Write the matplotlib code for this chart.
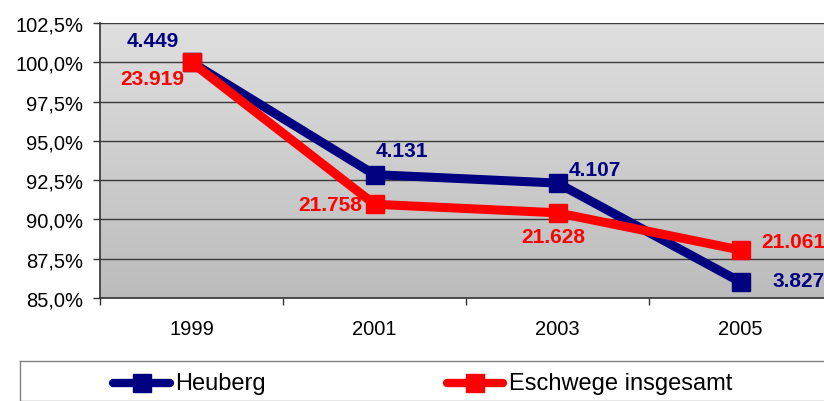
import numpy as np
import matplotlib
matplotlib.use("Agg")
import matplotlib.pyplot as plt
from matplotlib.ticker import FixedLocator, FuncFormatter

plt.rcParams['font.family'] = ['Liberation Sans', 'DejaVu Sans']

years = ["1999", "2001", "2003", "2005"]
heuberg = [4449, 4131, 4107, 3827]
eschwege = [23919, 21758, 21628, 21061]
series_names = ["Heuberg", "Eschwege insgesamt"]

navy = "#000080"
red = "#ff0000"

def pct(vals):
    v = np.asarray(vals, dtype=float)
    return v / v[0] * 100.0

def fmt_de(n):
    return f"{n:,}".replace(",", ".")

fig = plt.figure(figsize=(8.24, 4.02), dpi=100)
ax = fig.add_axes([100 / 824, 1 - 299 / 402, 732 / 824, 275 / 402])

x = np.arange(len(years))
ax.set_xlim(-0.5, len(years) - 0.5)
ax.set_ylim(85, 102.5)

# vertical gradient background
grad = np.linspace(0, 1, 256).reshape(-1, 1)
ax.imshow(grad, aspect='auto', cmap=matplotlib.colors.LinearSegmentedColormap.from_list(
    'bg', ['#bcbcbc', '#dfdfdf']), extent=(-0.5, len(years) - 0.5, 85, 102.5),
    origin='lower', zorder=0)

ax.yaxis.set_major_locator(FixedLocator(np.arange(85, 102.6, 2.5)))
ax.yaxis.set_major_formatter(FuncFormatter(lambda v, p: f"{v:.1f}%".replace(".", ",")))
ax.grid(axis='y', color='#3a3a3a', linewidth=1.0, zorder=1)
ax.set_axisbelow(False)

ax.set_xticks(x)
ax.set_xticklabels(years)
ax.xaxis.set_minor_locator(FixedLocator(np.arange(-0.5, len(years), 1.0)))
ax.tick_params(axis='x', which='major', length=0, pad=15, labelsize=14.5)
ax.tick_params(axis='x', which='minor', length=5, width=1, color='#333333')
ax.tick_params(axis='y', length=5, width=1, color='#333333', labelsize=14.5, pad=7)

for side in ['top', 'right']:
    ax.spines[side].set_visible(False)
for side in ['left', 'bottom']:
    ax.spines[side].set_color('#333333')
    ax.spines[side].set_linewidth(1.2)

yh = pct(heuberg)
ye = pct(eschwege)
ax.plot(x, yh, color=navy, lw=6.5, marker='s', ms=12.5, zorder=3,
        solid_joinstyle='miter', label=series_names[0])
ax.plot(x, ye, color=red, lw=6.5, marker='s', ms=12.5, zorder=4,
        solid_joinstyle='miter', label=series_names[1])

# value labels (offsets in points)
h_off = [(-28, 16, 'center'), (20, 17, 'center'), (8, 10, 'left'), (23, 1, 'left')]
e_off = [(-28, -12, 'center'), (-9, 0, 'right'), (-3, -17, 'center'), (15, 6, 'left')]
for i in range(len(years)):
    dx, dy, ha = h_off[i]
    ax.annotate(fmt_de(heuberg[i]), (x[i], yh[i]), xytext=(dx, dy), textcoords='offset points',
                ha=ha, va='center', color=navy, fontsize=15, fontweight='bold', zorder=6,
                annotation_clip=False)
    dx, dy, ha = e_off[i]
    ax.annotate(fmt_de(eschwege[i]), (x[i], ye[i]), xytext=(dx, dy), textcoords='offset points',
                ha=ha, va='center', color=red, fontsize=15, fontweight='bold', zorder=6,
                annotation_clip=False)

# legend box at the bottom
leg_ax = fig.add_axes([20 / 824, 0, 1 - 20 / 824 + 0.01, 1 - 362 / 402])
leg_ax.set_xlim(20, 832)
leg_ax.set_ylim(402, 362)
leg_ax.set_xticks([])
leg_ax.set_yticks([])
for s in leg_ax.spines.values():
    s.set_color('#808080')
    s.set_linewidth(1.0)
for (x0, x1, tx, col, name) in [(113, 170, 175, navy, series_names[0]),
                                (447, 503, 509, red, series_names[1])]:
    leg_ax.plot([x0, x1], [384, 384], color=col, lw=6, solid_capstyle='round')
    leg_ax.plot([(x0 + x1) / 2], [384], marker='s', ms=13, color=col)
    leg_ax.text(tx, 384, name, ha='left', va='center', fontsize=17)

fig.savefig("out.png", dpi=100)
